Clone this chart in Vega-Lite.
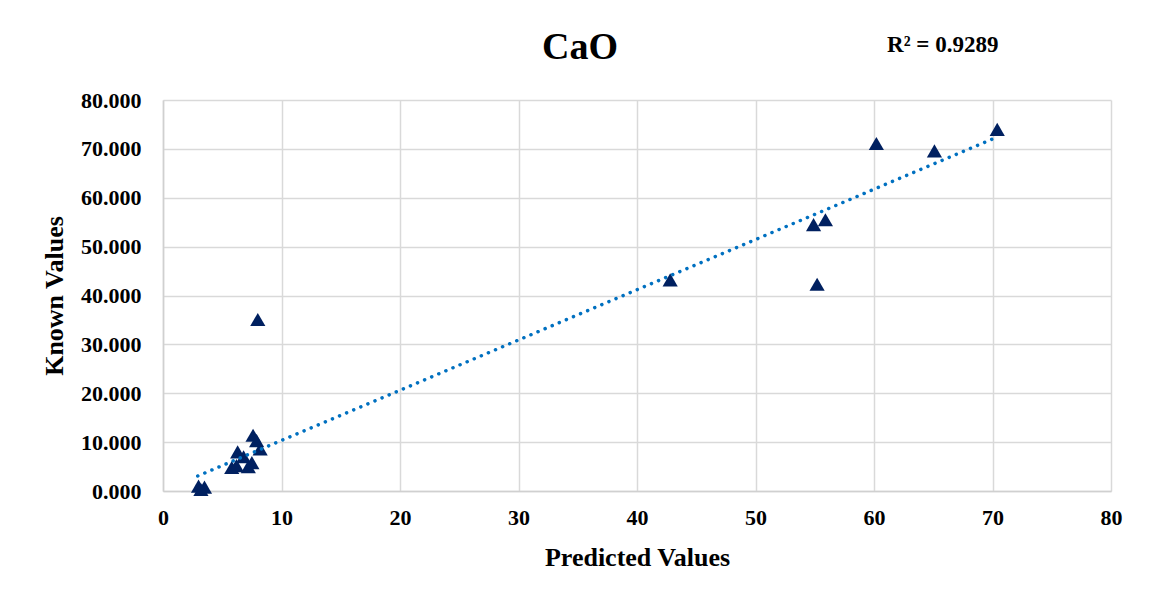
{
  "$schema": "https://vega.github.io/schema/vega-lite/v6.json",
  "width": 948,
  "height": 391,
  "autosize": {"type": "none"},
  "padding": {"left": 163, "top": 100, "right": 41, "bottom": 111},
  "background": "white",
  "config": {
    "font": "Liberation Serif",
    "view": {"stroke": null},
    "axis": {
      "gridColor": "#d9d9d9",
      "gridWidth": 1.5,
      "domainColor": "#d0d0d0",
      "domainWidth": 1.5,
      "ticks": false,
      "tickSize": 0,
      "labelFont": "Liberation Serif",
      "labelFontSize": 22,
      "labelFontWeight": "bold",
      "labelColor": "black",
      "labelFlush": false,
      "labelOverlap": false,
      "titleFont": "Liberation Serif",
      "titleFontSize": 26,
      "titleFontWeight": "bold",
      "titleColor": "black"
    }
  },
  "datasets": {
    "points": [
      {"predicted": 70.4, "known": 74.0},
      {"predicted": 60.2, "known": 71.1},
      {"predicted": 65.1, "known": 69.6},
      {"predicted": 55.9, "known": 55.5},
      {"predicted": 54.9, "known": 54.5},
      {"predicted": 55.2, "known": 42.3},
      {"predicted": 42.8, "known": 43.2},
      {"predicted": 8.0, "known": 35.1},
      {"predicted": 7.6, "known": 11.4},
      {"predicted": 7.9, "known": 10.3},
      {"predicted": 8.2, "known": 8.6},
      {"predicted": 6.3, "known": 8.0},
      {"predicted": 6.8, "known": 7.0},
      {"predicted": 7.5, "known": 5.8},
      {"predicted": 5.8, "known": 4.8},
      {"predicted": 7.2, "known": 5.0},
      {"predicted": 6.2, "known": 5.2},
      {"predicted": 3.0, "known": 1.0},
      {"predicted": 3.5, "known": 0.8},
      {"predicted": 3.2, "known": 0.3}
    ],
    "trend": [
      {"predicted": 2.93, "known": 3.07},
      {"predicted": 70.35, "known": 72.37}
    ],
    "labels": [
      {"label": "CaO", "px": 35.2, "py": 90.6, "kind": "title"},
      {"label": "R² = 0.9289", "px": 65.8, "py": 91.3, "kind": "r2"}
    ]
  },
  "layer": [
    {
      "data": {"name": "points"},
      "mark": {"type": "point", "shape": "triangle-up", "filled": true, "color": "#002060", "opacity": 1, "size": 230},
      "encoding": {
        "x": {
          "field": "predicted",
          "type": "quantitative",
          "scale": {"domain": [0, 80], "nice": false},
          "axis": {"title": "Predicted Values", "values": [0, 10, 20, 30, 40, 50, 60, 70, 80], "labelPadding": 16, "titlePadding": 16}
        },
        "y": {
          "field": "known",
          "type": "quantitative",
          "scale": {"domain": [0, 80], "nice": false},
          "axis": {"title": "Known Values", "values": [0, 10, 20, 30, 40, 50, 60, 70, 80], "format": ".3f", "labelPadding": 22, "titlePadding": 13}
        }
      }
    },
    {
      "data": {"name": "trend"},
      "mark": {"type": "line", "color": "#0070C0", "strokeWidth": 3.5, "strokeDash": [0.1, 7.6], "strokeCap": "round"},
      "encoding": {
        "x": {"field": "predicted", "type": "quantitative"},
        "y": {"field": "known", "type": "quantitative"}
      }
    },
    {
      "data": {"name": "labels"},
      "transform": [{"filter": "datum.kind === 'title'"}],
      "mark": {"type": "text", "font": "Liberation Serif", "fontSize": 38, "fontWeight": "bold", "color": "black"},
      "encoding": {
        "x": {"field": "px", "type": "quantitative"},
        "y": {"field": "py", "type": "quantitative"},
        "text": {"field": "label"}
      }
    },
    {
      "data": {"name": "labels"},
      "transform": [{"filter": "datum.kind === 'r2'"}],
      "mark": {"type": "text", "font": "Liberation Serif", "fontSize": 23, "fontWeight": "bold", "color": "black"},
      "encoding": {
        "x": {"field": "px", "type": "quantitative"},
        "y": {"field": "py", "type": "quantitative"},
        "text": {"field": "label"}
      }
    }
  ]
}
